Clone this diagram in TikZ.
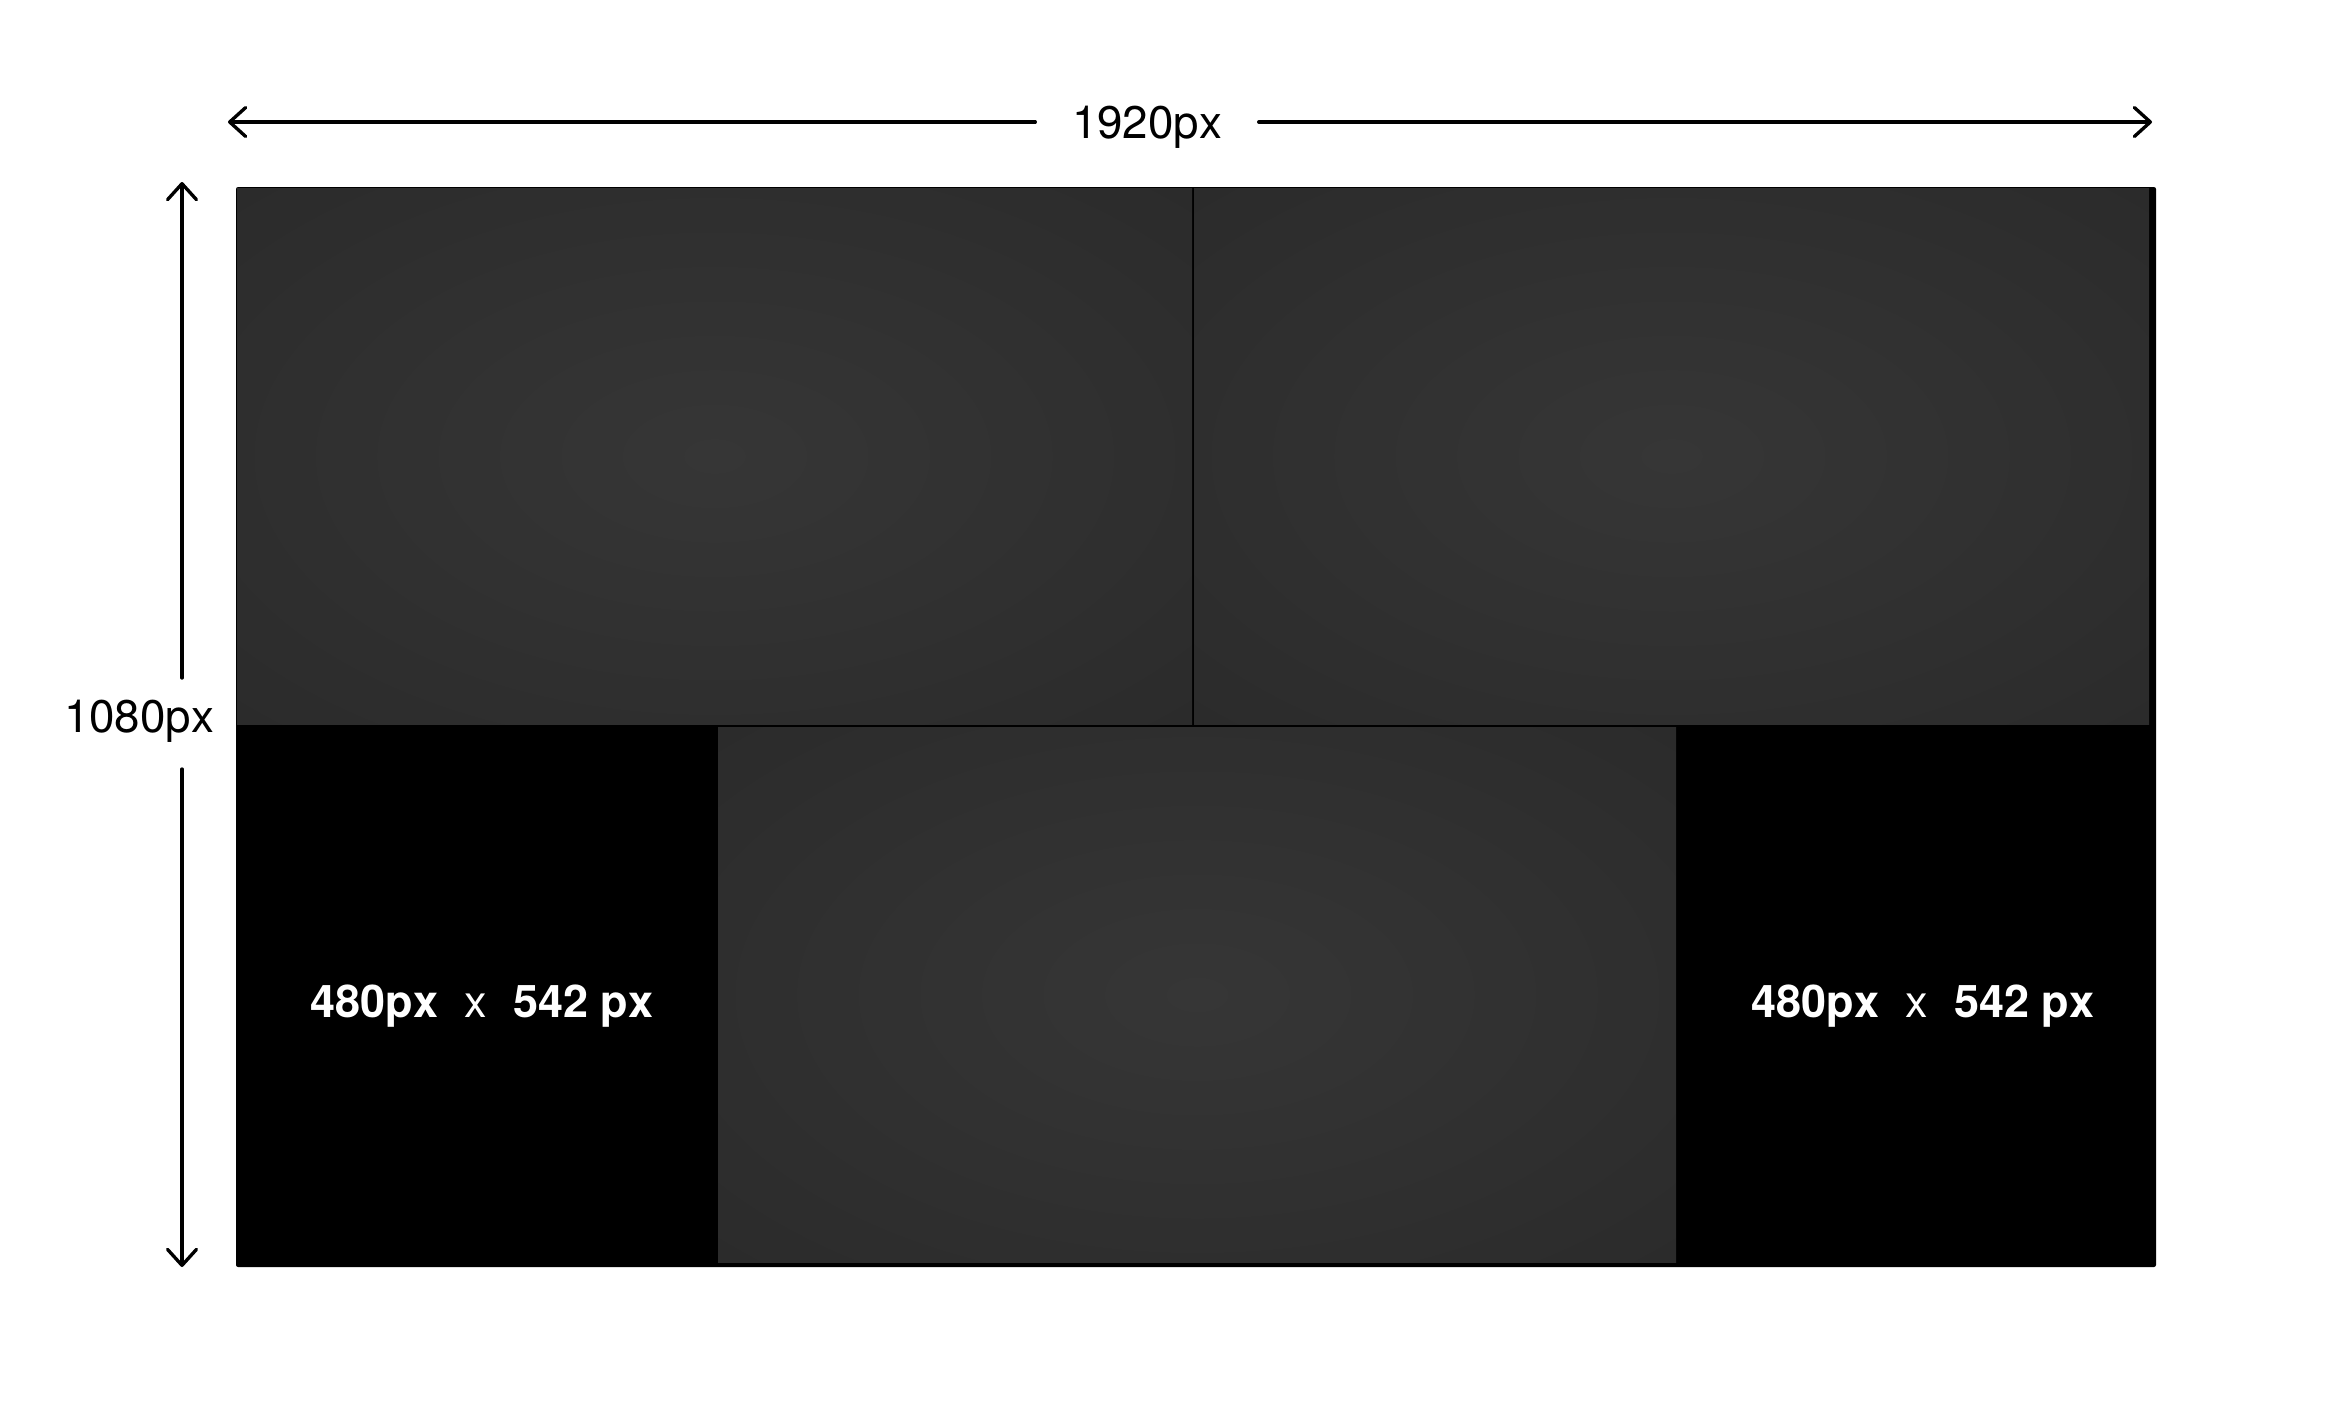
\documentclass[tikz,border=0pt]{standalone}
\usepackage{fontspec}
\setmainfont{TeX Gyre Heros}
\usepackage{tikz}
\usetikzlibrary{arrows.meta}
\usepackage{xcolor}
\definecolor{tileedge}{HTML}{282828}
\definecolor{tilecore}{HTML}{363636}
\pgfdeclareradialshading{tileglow}{\pgfpoint{0bp}{0bp}}{color(0bp)=(tilecore); color(45bp)=(tileedge); color(72bp)=(tileedge)}
\tikzstyle{dimline} = [line width=0.95pt, line cap=round, -{Straight Barb[length=0.16cm, width=0.29cm, round]}]
\tikzstyle{dimtext} = [font=\fontsize{13pt}{15pt}\selectfont, text height=9.4pt, text depth=0pt, inner ysep=0pt]
\tikzstyle{tilelabel} = [text=white, anchor=base, font=\fontsize{12.8pt}{15pt}\selectfont]

\begin{document}
\begin{tikzpicture}[x=0.01cm, y=-0.01cm]
        \useasboundingbox (0,0) rectangle (2328,1420);
        \fill[black, rounded corners=0.6pt] (236,187) rectangle (2156,1267);
        \shade[shading=tileglow] (237,188) rectangle (1192,724);
        \shade[shading=tileglow] (1194,188) rectangle (2149,724);
        \shade[shading=tileglow] (718,727) rectangle (1676,1262);
        \node[dimtext, inner xsep=0.36cm] (w1920) at (1147,122) {1920px};
        \node[dimtext, inner xsep=0pt] (h1080) at (139,716) {1080px};
        \coordinate (hleft) at (228,122);
        \coordinate (hright) at (2152,122);
        \coordinate (vtop) at (182,182);
        \coordinate (vgapt) at (182,678);
        \coordinate (vgapb) at (182,769);
        \coordinate (vbot) at (182,1267);
        \draw[dimline] (w1920.west) -- (hleft);
        \draw[dimline] (w1920.east) -- (hright);
        \draw[dimline] (vgapt) -- (vtop);
        \draw[dimline] (vgapb) -- (vbot);
        \node[tilelabel] (sizel) at (482,1017) {\bfseries 480px\hspace{7.5pt}\mdseries x\hspace{7.5pt}\bfseries 542 px};
        \node[tilelabel] (sizer) at (1923,1017) {\bfseries 480px\hspace{7.5pt}\mdseries x\hspace{7.5pt}\bfseries 542 px};
    \end{tikzpicture}
\end{document}
